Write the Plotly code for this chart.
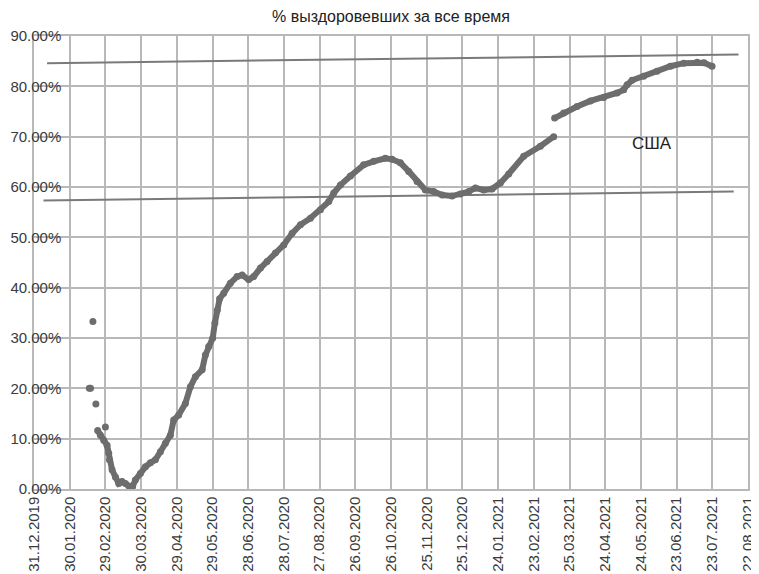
import plotly.graph_objects as go

# ---- data (days since 31.12.2019, recovered share in %) ----
tick_days = [0, 30, 60, 90, 120, 150, 180, 210, 240, 270, 300, 330, 360, 390, 420, 450, 480, 510, 540, 570, 600]
tick_labels = ["31.12.2019", "30.01.2020", "29.02.2020", "30.03.2020", "29.04.2020", "29.05.2020",
               "28.06.2020", "28.07.2020", "27.08.2020", "26.09.2020", "26.10.2020", "25.11.2020",
               "25.12.2020", "24.01.2021", "23.02.2021", "25.03.2021", "24.04.2021", "24.05.2021",
               "23.06.2021", "23.07.2021", "22.08.2021"]

usa_days = [46.5, 47.5, None, 49.5, None, 52, None, 60, None,
            53.5, 55.8, 58.6, 61.4, 62.8, 63.4, 65.6, 68.4, 71.2, 74, 76.8, 79.6, 82.9, 85.2,
            89.4, 93.6, 97.8, 102, 106.2, 110.4, 114.6, 117.4, 121.6, 127.2, 131.4, 135.6,
            141.3, 144, 146.8, 150.2, 152, 154, 156, 159.4, 165, 170.7, 174.9, 180.4, 184.6,
            190.3, 195.9, 202.9, 209.9, 216.9, 223.9, 232.3, 240.7, 247.7, 251.9, 257.5,
            265.9, 277, 285.5, 295.3, 300.9, 307.9, 314.9, 321.9, 328.9, 335.9, 343, 351.3,
            358.3, 365.3, 370.9, 377.9, 384.9, 391.9, 398.9, 411.5, 425.5, 436.7, None,
            437.5, 445.1, 456.3, 467.6, 478.7, 489.9, 495.5, 498.4, 502.6, 512.3, 523.5,
            534.8, 546, 557.2, 563, 569.8]
usa_pct = [20.0, 20.0, None, 33.3, None, 16.9, None, 12.3, None,
           11.6, 10.7, 9.7, 8.7, 7.1, 5.8, 3.8, 2.4, 1.1, 1.5, 1.1, 0.6, 0.5, 1.8,
           3.1, 4.4, 5.2, 5.8, 7.4, 9.1, 10.7, 13.7, 14.7, 17.0, 20.3, 22.3,
           23.7, 26.6, 28.3, 30.0, 33.0, 35.5, 37.8, 38.9, 40.9, 42.2, 42.5, 41.6, 42.2,
           43.9, 45.2, 46.9, 48.5, 50.8, 52.5, 53.8, 55.5, 57.1, 58.8, 60.4,
           62.2, 64.4, 65.1, 65.7, 65.5, 64.8, 63.1, 61.1, 59.4, 59.1, 58.4, 58.2,
           58.6, 59.1, 59.8, 59.4, 59.6, 60.8, 62.6, 66.1, 68.1, 70.0, None,
           73.7, 74.7, 76.0, 77.1, 77.8, 78.7, 79.3, 80.3, 81.2, 82.0, 83.0,
           84.0, 84.6, 84.8, 84.7, 84.0]

upper_trend_days = [11, 592]
upper_trend_pct = [84.6, 86.3]
lower_trend_days = [8, 588]
lower_trend_pct = [57.3, 59.1]

label_text = "США"
label_day, label_pct = 519, 68.6

title_text = "% выздоровевших за все время"

# ---- figure ----
grid = "#b8b8b8"
data_col = "#6d6d6d"
trend_col = "#7a7a7a"
txt = "#3a3a3a"
font_main = "Liberation Sans, Arial, sans-serif"

fig = go.Figure()
fig.add_trace(go.Scatter(x=upper_trend_days, y=upper_trend_pct, mode="lines",
                         line=dict(color=trend_col, width=2), hoverinfo="skip", showlegend=False))
fig.add_trace(go.Scatter(x=lower_trend_days, y=lower_trend_pct, mode="lines",
                         line=dict(color=trend_col, width=2), hoverinfo="skip", showlegend=False))
fig.add_trace(go.Scatter(x=usa_days, y=usa_pct, mode="lines+markers",
                         line=dict(color=data_col, width=6),
                         marker=dict(color=data_col, size=7),
                         connectgaps=False, showlegend=False))

fig.add_annotation(x=label_day, y=label_pct, text=label_text, showarrow=False,
                   font=dict(family=font_main, size=17, color="#222222"))

# white strip behind the y tick labels (gridlines start after the labels)
fig.add_shape(type="rect", xref="x", yref="paper", x0=0.6, x1=24, y0=0.004, y1=0.996,
              fillcolor="white", line=dict(width=0), layer="between")

# the page body adds an 8px offset, so the figure is sized/margined to compensate
fig.update_layout(
    width=751, height=566,
    margin=dict(l=26, r=11, t=28, b=85, autoexpand=False),
    paper_bgcolor="white", plot_bgcolor="white",
    title=dict(text=title_text, x=0.5, xref="paper", xanchor="center",
               y=1 - 8 / 566, yref="container", yanchor="middle",
               font=dict(family=font_main, size=16, color="#222222")),
    font=dict(family=font_main, color=txt),
)
fig.update_xaxes(range=[0, 600], tickmode="array", tickvals=tick_days, ticktext=tick_labels,
                 tickangle=-90, tickfont=dict(family=font_main, size=15, color=txt),
                 showgrid=True, gridcolor=grid, gridwidth=1.5, zeroline=False, automargin=False,
                 showline=True, linecolor=grid, linewidth=1.5, mirror=True, ticks="")
fig.update_yaxes(range=[0, 90], dtick=10, tickformat=".2f", ticksuffix="%",
                 tickfont=dict(family=font_main, size=15, color=txt),
                 showgrid=True, gridcolor=grid, gridwidth=1.5, zeroline=False, automargin=False,
                 showline=True, linecolor=grid, linewidth=1.5, mirror=True, ticks="",
                 ticklabelstandoff=-32)

fig.write_html("out.html")
